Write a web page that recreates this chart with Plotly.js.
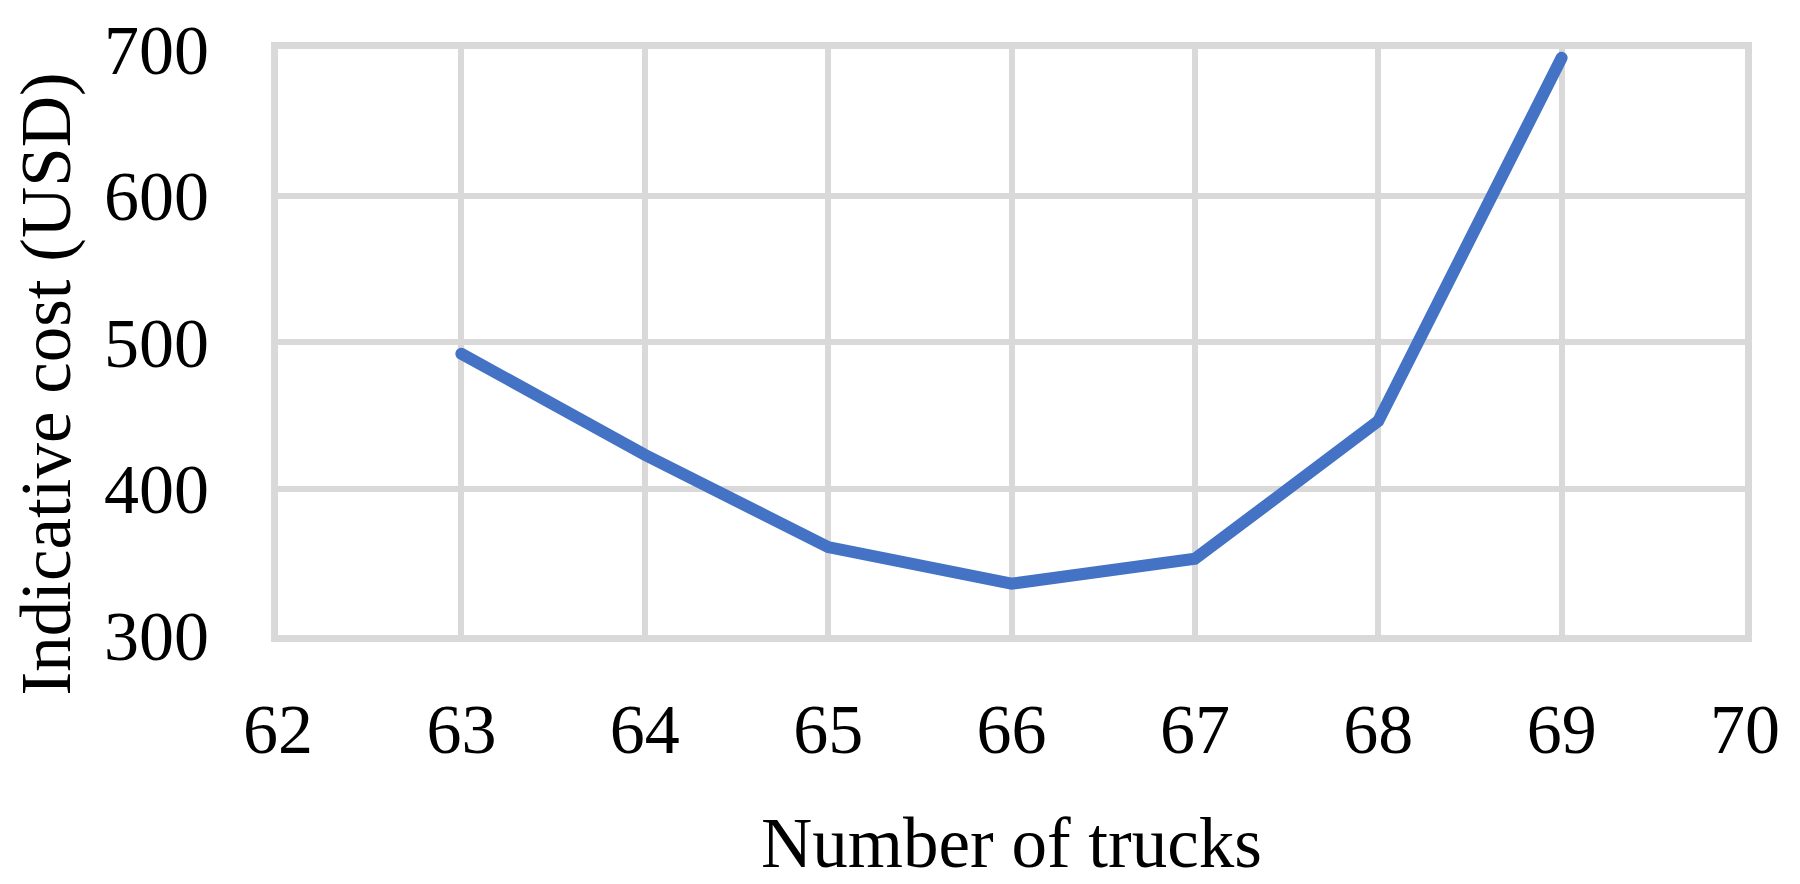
<!DOCTYPE html>
<html>
<head>
<meta charset="utf-8">
<script src="https://cdn.plot.ly/plotly-3.0.1.min.js"></script>
<style>
html,body{margin:0;padding:0;background:#fff;}
#chart{width:1800px;height:884px;}
#chart .js-line{stroke-linecap:round;}
</style>
</head>
<body>
<div id="chart"></div>
<script>
const trucks = [63, 64, 65, 66, 67, 68, 69];
const cost = [492, 423, 360, 335, 352, 446, 694];
const xTitle = "Number of trucks";
const yTitle = "Indicative cost (USD)";

const fontFam = "'Liberation Serif', 'Times New Roman', serif";
const grid = '#d9d9d9';

const trace = {
  x: trucks, y: cost, type: 'scatter', mode: 'lines',
  line: {color: '#4472c4', width: 12},
  cliponaxis: false, hoverinfo: 'x+y'
};

const layout = {
  width: 1800, height: 884,
  margin: {l: 278, r: 55, t: 49, b: 249},
  paper_bgcolor: '#fff', plot_bgcolor: '#fff',
  showlegend: false,
  font: {family: fontFam, size: 70, color: '#000'},
  xaxis: {
    range: [62, 70], tick0: 62, dtick: 1, showgrid: true, gridcolor: grid, gridwidth: 6,
    showline: true, linecolor: grid, linewidth: 7, mirror: true, zeroline: false,
    ticks: '', ticklabelstandoff: 27, tickfont: {family: fontFam, size: 70, color: '#000'}
  },
  yaxis: {
    range: [300, 700], tick0: 300, dtick: 100, showgrid: true, gridcolor: grid, gridwidth: 6,
    showline: true, linecolor: grid, linewidth: 7, mirror: true, zeroline: false,
    ticks: '', ticklabelstandoff: 48, tickfont: {family: fontFam, size: 70, color: '#000'}
  },
  annotations: [
    {text: xTitle, xref: 'paper', yref: 'paper', x: 0.5, y: -0.3556, xanchor: 'center', yanchor: 'middle',
     showarrow: false, font: {family: fontFam, size: 71, color: '#000'}},
    {text: yTitle, xref: 'paper', yref: 'paper', x: -0.158, y: 0.428, xanchor: 'center', yanchor: 'middle',
     textangle: -90, showarrow: false, font: {family: fontFam, size: 71, color: '#000'}}
  ]
};

Plotly.newPlot('chart', [trace], layout, {displayModeBar: false, staticPlot: true});
</script>
</body>
</html>
